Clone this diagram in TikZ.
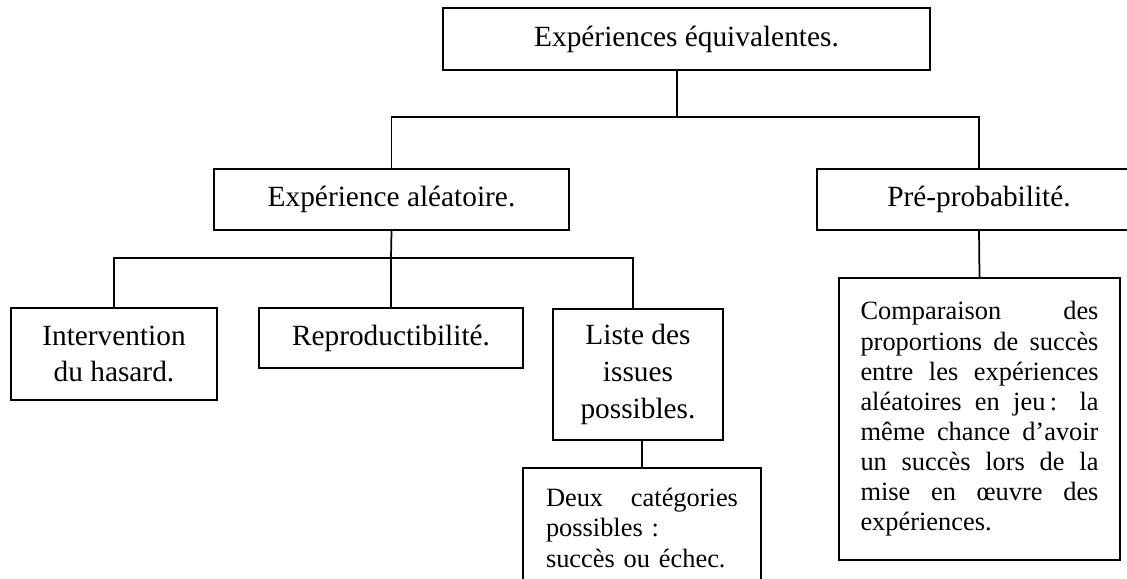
\documentclass[tikz,border=0pt]{standalone}
\usepackage{fontspec}
\setmainfont{Liberation Serif}
\usetikzlibrary{calc}
% a justified line: interword glue stretched to the given width
\newcommand\fullline[2]{\makebox[#1][s]{\spaceskip=0pt\xspaceskip=0pt #2}}
\begin{document}
\begin{tikzpicture}[x=0.75pt,y=-0.75pt,line width=1.3pt,
  box/.style={draw,line width=1.3pt,inner sep=0pt,align=center},
  big/.style={font=\fontsize{22}{27.5}\selectfont},
  small/.style={font=\fontsize{19.8}{22.6}\selectfont}]
\useasboundingbox (0,0) rectangle (1127,578);

% boxes of the concept tree
\node[box,big,minimum width=365.25pt,minimum height=46.5pt] (top) at (686.5,39) {Expériences équivalentes.};
\node[box,big,minimum width=266.25pt,minimum height=45.75pt] (ea) at (391.5,199.5) {Expérience aléatoire.};
\node[box,big,minimum width=243pt,minimum height=45.75pt] (pre) at (979,199.5) {Pré-probabilité.};
\node[box,big,minimum width=154.5pt,minimum height=69pt] (int) at (114,354) {Intervention\\du hasard.};
\node[box,big,minimum width=198pt,minimum height=45pt] (rep) at (391,338) {Reproductibilité.};
\node[box,big,minimum width=127.5pt,minimum height=98.25pt] (liste) at (638,374.5) {Liste des\\issues\\possibles.};
\node[box,small,align=left,text width=144pt,minimum width=178.5pt,minimum height=90pt] (deux) at (642,528)
  {\fullline{144pt}{Deux catégories}\\possibles :\\succès ou échec.};
\node[box,small,align=left,text width=178.5pt,minimum width=210.75pt,minimum height=211.5pt] (comp) at (979.5,419)
  {\fullline{178.5pt}{Comparaison des}\\
   \fullline{178.5pt}{proportions de succès}\\
   \fullline{178.5pt}{entre les expériences}\\
   \fullline{178.5pt}{aléatoires en jeu\thinspace: la}\\
   \fullline{178.5pt}{même chance d’avoir}\\
   \fullline{178.5pt}{un succès lors de la}\\
   \fullline{178.5pt}{mise en œuvre des}\\
   expériences.};

% junctions of the connector bars
\coordinate (j0) at (677,117);
\coordinate (j1) at (391,258);
\coordinate (lt) at ($(liste.north)+(-5,0)$);

% connectors
\draw (top.south -| j0) -- (j0);
\draw (ea.north) |- (pre.north |- j0) -- (pre.north);
\draw (ea.south) -- (j1);
\draw (int.north) -- (int.north |- j1) -| (lt);
\draw (rep.north) -- (rep.north |- j1);
\draw (deux.north |- liste.south) -- (deux.north);
\draw (pre.south) -- (comp.north);
\end{tikzpicture}
\end{document}
